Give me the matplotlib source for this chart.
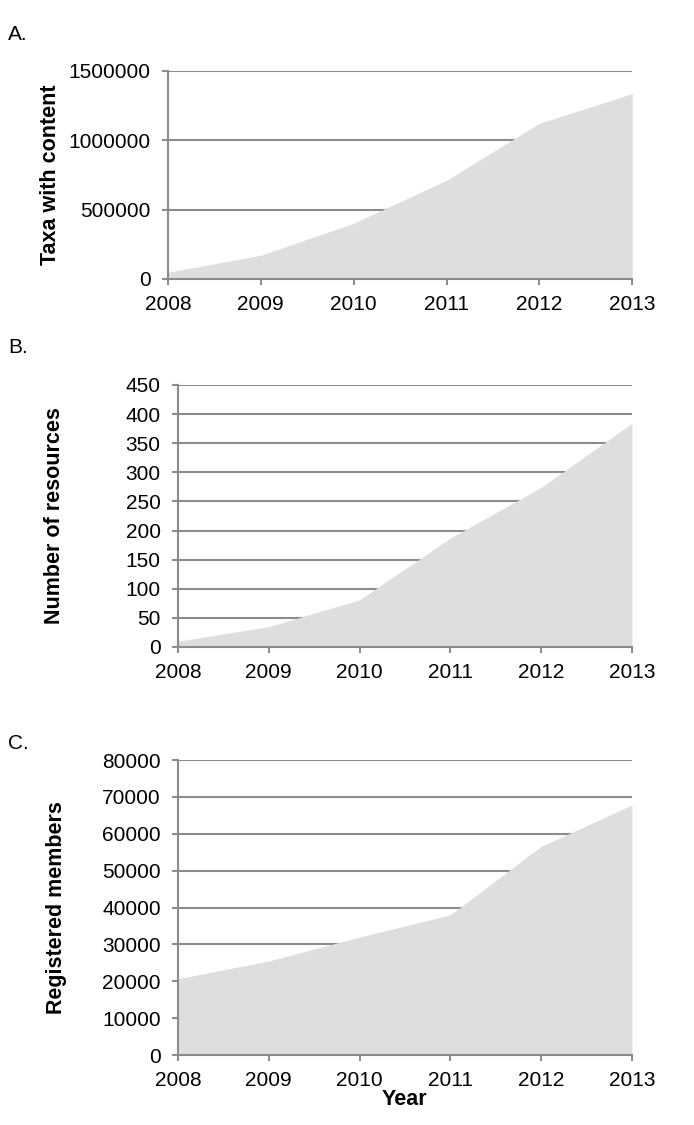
import matplotlib.pyplot as plt
from matplotlib.ticker import ScalarFormatter

# ==========================================
# DATA
# ==========================================

anos = [2008, 2009, 2010, 2011, 2012, 2013]

taxa_com_conteudo = [49000, 171000, 402000, 712000, 1122000, 1337000]
num_recursos = [10, 35, 81, 187, 274, 384]
membros = [20700, 25500, 32000, 38000, 56600, 67800]

plt.rcParams['font.family'] = ['Liberation Sans', 'DejaVu Sans']

cor_fill = '#dedede'
cor_grid = '#8c8c8c'

fig = plt.figure(figsize=(6.94, 11.25), dpi=100)

paineis = [
    # (pos, valores, ymax, passo, ylabel, letra, y_letra, label x)
    ([0.242, 0.752, 0.669, 0.1849], taxa_com_conteudo, 1500000, 500000,
     'Taxa with content', 'A.', 0.969, -0.231),
    ([0.2565, 0.4249, 0.654, 0.2329], num_recursos, 450, 50,
     'Number of resources', 'B.', 0.691, -0.249),
    ([0.2565, 0.0622, 0.654, 0.2622], membros, 80000, 10000,
     'Registered members', 'C.', 0.339, -0.244),
]

for pos, valores, ymax, passo, ylabel, letra, y_letra, lx in paineis:
    ax = fig.add_axes(pos)
    ax.fill_between(anos, valores, 0, color=cor_fill, linewidth=0, zorder=2)
    ax.set_xlim(anos[0], anos[-1])
    ax.set_ylim(0, ymax)
    ax.set_xticks(anos)
    ax.set_yticks(range(0, ymax + 1, passo))
    fmt = ScalarFormatter(useOffset=False)
    fmt.set_scientific(False)
    ax.yaxis.set_major_formatter(fmt)
    ax.yaxis.grid(True, color=cor_grid, linewidth=1.5, zorder=1)
    ax.set_axisbelow(True)
    for s in ['top', 'right']:
        ax.spines[s].set_visible(False)
    for s in ['left', 'bottom']:
        ax.spines[s].set_color(cor_grid)
        ax.spines[s].set_linewidth(1.5)
        ax.spines[s].set_zorder(3)
    ax.tick_params(axis='both', colors=cor_grid, labelcolor='black',
                   labelsize=15, width=1.5, length=4.5)
    ax.tick_params(axis='y', pad=8)
    ax.tick_params(axis='x', pad=7)
    ax.set_ylabel(ylabel, fontsize=15.5, fontweight='bold')
    ax.yaxis.set_label_coords(lx, 0.5)
    fig.text(0.012, y_letra, letra, fontsize=15, va='center', ha='left')

ax.set_xlabel('Year', fontsize=15.5, fontweight='bold', labelpad=-1)

plt.savefig('out.png', dpi=100)
